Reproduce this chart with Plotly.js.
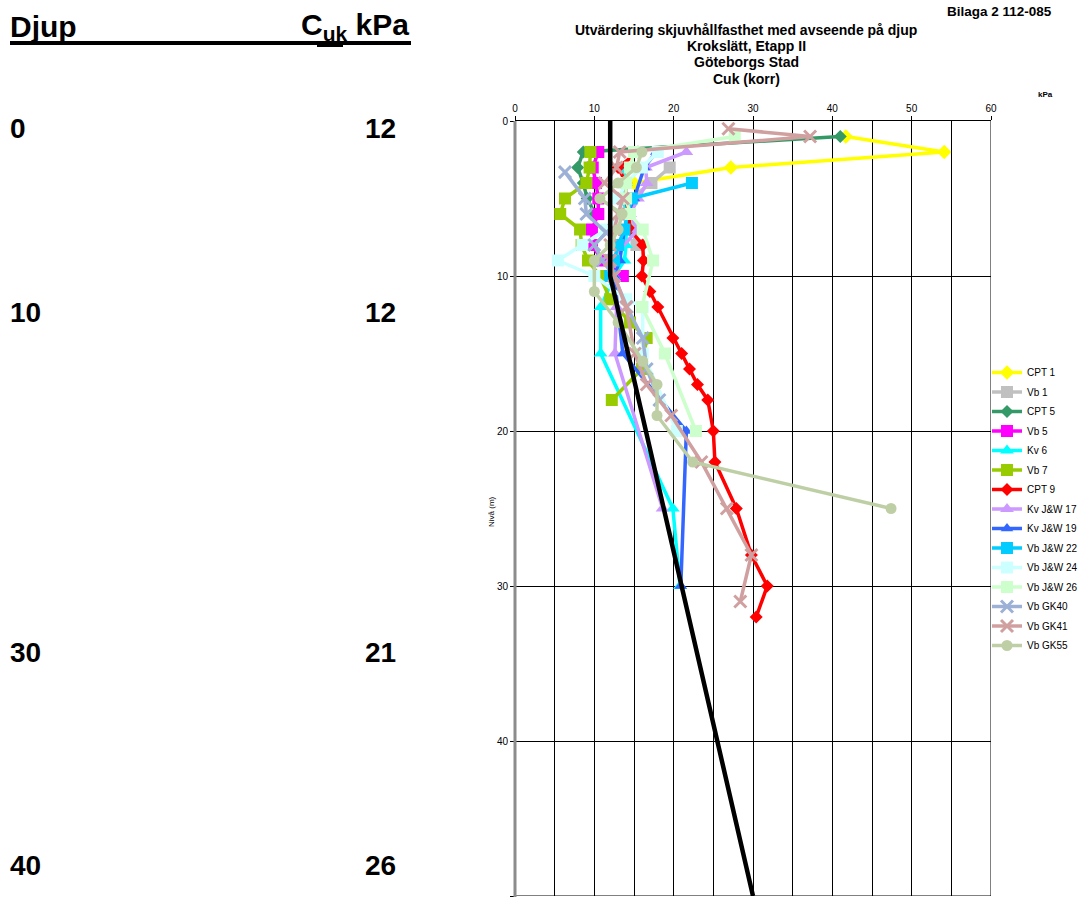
<!DOCTYPE html>
<html>
<head>
<meta charset="utf-8">
<script src="https://cdn.plot.ly/plotly-3.0.1.min.js"></script>
<style>html,body{margin:0;padding:0;background:#fff}#chart{width:1080px;height:897px}</style>
</head>
<body>
<div id="chart"></div>
<script>
// ---- Data (depth in m, shear strength in kPa) ----
const seriesNames = ["CPT 1","Vb 1","CPT 5","Vb 5","Kv 6","Vb 7","CPT 9","Kv J&W 17","Kv J&W 19","Vb J&W 22","Vb J&W 24","Vb J&W 26","Vb GK40","Vb GK41","Vb GK55"];

const cpt1Depth = [1, 2, 3, 4];
const cpt1Kpa   = [41.7, 54.1, 27.2, 15];

const vb1Depth = [3, 4, 5, 6, 7, 8];
const vb1Kpa   = [19.5, 17.2, 14.5, 14.5, 14.8, 15.3];

const cpt5Depth = [1, 2, 3, 4, 5, 6];
const cpt5Kpa   = [41, 8.6, 7.9, 8.6, 9.1, 10.1];

const vb5Depth = [2, 3, 4, 5, 6, 7, 8, 9, 10];
const vb5Kpa   = [10.5, 9.8, 10.2, 10.5, 10.5, 9.7, 9.7, 11, 13.6];

const kv6Depth = [3, 4, 5, 6, 7, 8, 9, 10, 12, 15, 25, 30];
const kv6Kpa   = [13.6, 14, 13.5, 14.2, 14, 14, 13.8, 12.5, 10.8, 10.8, 19.9, 20.8];

const vb7Depth = [2, 3, 4, 5, 6, 7, 8, 9, 10, 11.5, 13, 14, 16, 18];
const vb7Kpa   = [9.5, 9.4, 9, 6.3, 5.7, 8.2, 8.4, 9.2, 10.7, 12, 14.5, 16.6, 16, 12.2];

const cpt9Depth = [2, 3, 4, 5, 6, 7, 8, 9, 10, 11, 12, 14, 15, 16, 17, 18, 20, 22, 25, 28, 30, 32];
const cpt9Kpa   = [15.5, 13, 14, 14, 14.3, 14.5, 16.1, 16.2, 16, 17, 18, 19.9, 21, 22, 23, 24.3, 25, 25.2, 27.9, 29.8, 31.8, 30.4];

const kvJW17Depth = [2, 3, 4, 5, 6, 7, 9, 12, 15, 25];
const kvJW17Kpa   = [21.6, 16.5, 16.6, 15.5, 14.5, 15.5, 12, 12.8, 12.6, 18.6];

const kvJW19Depth = [2, 3, 5, 6, 7, 9, 10, 15, 20, 30];
const kvJW19Kpa   = [17.8, 16.3, 15, 14.2, 13.8, 13.2, 12.5, 13.6, 21.6, 20.9];

const vbJW22Depth = [4, 5, 6, 7, 8, 9, 10];
const vbJW22Kpa   = [22.3, 14.7, 14.2, 13.8, 13, 12.5, 12];

const vbJW24Depth = [2, 3, 4, 5, 6, 7, 8, 9, 10, 11.5, 12, 15, 20];
const vbJW24Kpa   = [18, 16, 14, 13, 13.5, 11.5, 8.5, 5.4, 10, 14, 16.1, 16.1, 20.4];

const vbJW26Depth = [1, 2, 3, 4, 5, 6, 7, 9, 12, 15, 20];
const vbJW26Kpa   = [27.7, 15, 14.5, 14, 14, 14.5, 16.1, 17.4, 16, 18.9, 22.8];

const vbGK40Depth = [3.3, 5, 6, 7.2, 8, 9, 10, 12, 14, 16, 18];
const vbGK40Kpa   = [6.3, 8.8, 9, 11.5, 10, 11, 12.5, 14.1, 16.1, 16.6, 18.2];

const vbGK41Depth = [0.5, 1, 2, 3, 4, 5, 6, 7, 8, 9, 10, 12, 15, 17, 19, 22, 25, 28, 31];
const vbGK41Kpa   = [26.9, 37.2, 13.2, 12.8, 11.3, 13.6, 13, 12.5, 12, 12, 12.5, 14, 15.1, 16.6, 19.7, 23.5, 26.7, 29.8, 28.4];

const vbGK55Depth = [2, 3, 4, 5, 6, 7, 8, 9, 11, 13, 15.5, 17, 19, 22, 25];
const vbGK55Kpa   = [16, 15.3, 13, 10.7, 13.5, 13, 12, 10, 10, 13, 16.1, 17.9, 17.9, 22.4, 47.4];

// design line (Cuk characteristic)
const designDepth = [0, 10, 50];
const designKpa   = [12, 12, 30];

// left-hand table
const tableDepth = ["0", "10", "30", "40"];
const tableCuk   = ["12", "12", "21", "26"];

const xTicks = [0, 10, 20, 30, 40, 50, 60];
const yTicks = [0, 10, 20, 30, 40, 50];

// ---- styles ----
const colors  = ["#FFFF00","#C0C0C0","#339966","#FF00FF","#00FFFF","#99CC00","#FF0000","#CC99FF","#3366FF","#00CCFF","#CCFFFF","#CCFFCC","#9DB0D6","#D0A0A0","#BFCFA5"];
const symbols = ["diamond","square","diamond","square","triangle-up","square","diamond","triangle-up","triangle-up","square","square","square","x-thin","x-thin","circle"];
const msizes  = [11,12,10,12,12,12,10,12,11,12,12,12,12,12,11];

const allDepth = [cpt1Depth, vb1Depth, cpt5Depth, vb5Depth, kv6Depth, vb7Depth, cpt9Depth, kvJW17Depth, kvJW19Depth, vbJW22Depth, vbJW24Depth, vbJW26Depth, vbGK40Depth, vbGK41Depth, vbGK55Depth];
const allKpa   = [cpt1Kpa, vb1Kpa, cpt5Kpa, vb5Kpa, kv6Kpa, vb7Kpa, cpt9Kpa, kvJW17Kpa, kvJW19Kpa, vbJW22Kpa, vbJW24Kpa, vbJW26Kpa, vbGK40Kpa, vbGK41Kpa, vbGK55Kpa];

const traces = seriesNames.map((n, i) => ({
  type: "scatter", mode: "lines+markers", name: n, legendgroup: "g" + String(i).padStart(2, "0"),
  x: allKpa[i], y: allDepth[i],
  line: {color: colors[i], width: 3.5},
  marker: {color: colors[i], symbol: symbols[i], size: msizes[i],
           line: {color: colors[i], width: symbols[i] === "x-thin" ? 3 : 0}}
}));
traces.push({
  type: "scatter", mode: "lines", name: "Cuk", showlegend: false, legendgroup: "zz",
  x: designKpa, y: designDepth, line: {color: "#000", width: 4.5}
});

const W = 1080, H = 897;
const px = v => v / W;
const py = v => 1 - v / H;
const FONT = "Liberation Sans, Arial, sans-serif";

const annotations = [];
function ann(text, x, y, size, xanchor, extra) {
  annotations.push(Object.assign({
    text: text, xref: "paper", yref: "paper", x: px(x), y: py(y),
    xanchor: xanchor || "left", yanchor: "middle", showarrow: false,
    font: {family: FONT, size: size, color: "#000"}
  }, extra || {}));
}
// left table
ann("<b>Djup</b>", 8, 27, 30, "left");
ann("<b>C<sub>uk</sub> kPa</b>", 411, 27, 30, "right");
const rowY = [128, 312, 652, 865];
tableDepth.forEach((t, i) => ann("<b>" + t + "</b>", 8, rowY[i], 28, "left"));
tableCuk.forEach((t, i) => ann("<b>" + t + "</b>", 398, rowY[i], 28, "right"));

// chart titles
ann("<b>Bilaga 2 112-085</b>", 1054, 11, 13.5, "right");
const titleLines = ["Utvärdering skjuvhållfasthet med avseende på djup", "Krokslätt, Etapp II", "Göteborgs Stad", "Cuk (korr)"];
const titleY = [30, 46, 62, 79];
titleLines.forEach((t, i) => ann("<b>" + t + "</b>", 746, titleY[i], 14, "center"));
ann("<b>kPa</b>", 1045, 95, 8, "center");
ann("Nivå (m)", 491, 512, 8, "center", {textangle: -90});

const shapes = [
  {type: "line", xref: "paper", yref: "paper", x0: px(10), x1: px(411), y0: py(43), y1: py(43), line: {color: "#000", width: 4}},
  {type: "line", xref: "paper", yref: "paper", x0: px(317), x1: px(343), y0: py(46), y1: py(46), line: {color: "#000", width: 2}},
  {type: "line", xref: "paper", yref: "paper", x0: px(515), x1: px(515), y0: py(121), y1: py(897), line: {color: "#8c8c8c", width: 3}},
  {type: "line", xref: "x", yref: "y", x0: 60, x1: 60, y0: 0, y1: 50, line: {color: "#000", width: 1}, layer: "below"},
  {type: "line", xref: "x", yref: "y", x0: 0, x1: 60, y0: 50, y1: 50, line: {color: "#000", width: 1}, layer: "below"}
];

const layout = {
  width: W, height: H,
  margin: {l: 0, r: 0, t: 0, b: 0, autoexpand: false},
  paper_bgcolor: "#fff", plot_bgcolor: "#fff",
  font: {family: FONT, size: 10, color: "#000"},
  showlegend: true,
  legend: {x: px(987), y: py(358), xanchor: "left", yanchor: "top",
           font: {family: FONT, size: 10, color: "#000"}, bgcolor: "rgba(0,0,0,0)",
           itemwidth: 30, tracegroupgap: 0.5, traceorder: "grouped"},
  xaxis: {
    domain: [px(515), px(991)], range: [0, 60], side: "top", automargin: false,
    tickvals: xTicks, ticktext: xTicks.map(String),
    ticks: "outside", ticklen: 4, tickcolor: "#000", tickwidth: 1,
    tickfont: {family: FONT, size: 10, color: "#000"},
    showgrid: true, gridcolor: "#000", gridwidth: 1,
    minor: {dtick: 5, showgrid: true, gridcolor: "#000", gridwidth: 1, ticks: ""},
    showline: true, linecolor: "#000", linewidth: 1.5, mirror: false,
    zeroline: false, fixedrange: true
  },
  yaxis: {
    domain: [py(896), py(121)], range: [50, 0], automargin: false,
    tickvals: yTicks, ticktext: yTicks.map(String),
    ticks: "outside", ticklen: 4, tickcolor: "#000",
    tickfont: {family: FONT, size: 10, color: "#000"},
    showgrid: true, gridcolor: "#000", gridwidth: 1,
    showline: false, zeroline: false, fixedrange: true
  },
  annotations: annotations,
  shapes: shapes
};

Plotly.newPlot("chart", traces, layout, {displayModeBar: false, staticPlot: true});
</script>
</body>
</html>
